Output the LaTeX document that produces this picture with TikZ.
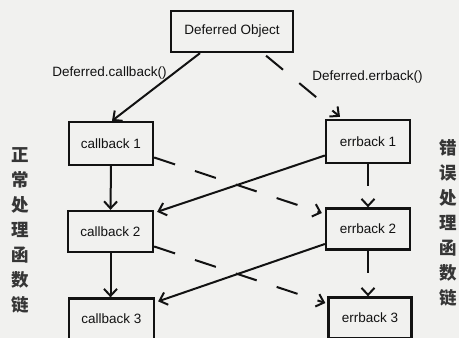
\documentclass[tikz,border=0pt]{standalone}
\usepackage{fontspec}
\setmainfont{Liberation Sans}
\newfontfamily\cjk{Noto Sans CJK SC}
\usetikzlibrary{arrows.meta,calc}
\definecolor{ink}{RGB}{18,18,18}
\definecolor{paper}{RGB}{241,241,239}
\begin{document}
\begin{tikzpicture}[x=1pt,y=-1pt,
  box/.style={draw=ink,line width=2.3pt,minimum width=84pt,minimum height=42pt,inner sep=0pt,
    font=\fontsize{13.5}{16}\selectfont,text=ink},
  conn/.style={draw=ink,line width=2pt,-{Straight Barb[length=7pt,width=13pt,line width=2pt]}},
  dashconn/.style={conn,dash pattern=on 22pt off 21pt},
  lbl/.style={font=\fontsize{13.5}{16}\selectfont,text=ink,inner sep=0pt},
  side/.style={font=\cjk\bfseries\fontsize{17.5}{25}\selectfont,text=ink!85,align=center,inner sep=0pt}
]
\useasboundingbox (0,0) rectangle (459,338);
\clip (0,0) rectangle (459,338);
\fill[paper] (0,0) rectangle (459,338);

\node[box,minimum width=122pt,minimum height=41pt] (D) at (232,31.5) {Deferred Object};
\node[box,minimum height=43pt] (c1) at (111,143.5) {callback 1};
\node[box,minimum height=43pt] (e1) at (368,141.5) {errback 1};
\node[box,minimum width=85pt,minimum height=41pt] (c2) at (110.5,231.5) {callback 2};
\node[box,minimum height=41pt] (e2) at (368,229) {errback 2};
\node[box,minimum width=85pt,minimum height=41pt] (c3) at (111.5,319) {callback 3};
\node[box,minimum width=83pt,minimum height=41pt] (e3) at (370,318) {errback 3};

\node[lbl] (lc) at (109.5,73) {Deferred.callback()};
\node[lbl] (le) at (367.5,77) {Deferred.errback()};

\node[side,anchor=north] (lt) at (20,147) {正\\常\\处\\理\\函\\数\\链};
\node[side,anchor=north] (rt) at (448,139) {错\\误\\处\\理\\函\\数\\链};

\draw[conn] ($(D.south)+(-32,0)$) -- ($(c1.north)+(1,0)$);
\draw[dashconn,dash phase=39pt] ($(D.south)+(31,0)$) -- ($(e1.north)+(-28,-2)$);

\draw[conn] (c1.south) -- (c2.north);
\draw[dashconn] (e1.south) -- (e2.north);
\draw[dashconn] ($(c1.east)+(0,14)$) -- ($(e2.west)+(-3,-16)$);
\draw[conn] ($(e1.west)+(0,14)$) -- ($(c2.north east)+(3,2)$);

\draw[conn] (c2.south) -- (c2.south |- c3.north);
\draw[dashconn] (e2.south) -- (e2.south |- e3.north);
\draw[dashconn] ($(c2.east)+(0,15)$) -- ($(e3.west)+(-2,-15)$);
\draw[conn] ($(e2.west)+(0,15)$) -- ($(c3.north east)+(3,4)$);
\end{tikzpicture}
\end{document}
